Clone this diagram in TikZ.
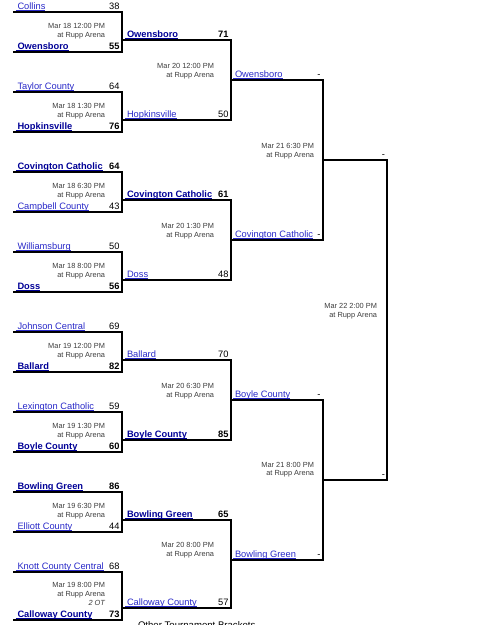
\documentclass[tikz,border=0pt]{standalone}
\usepackage{fontspec}
\setmainfont{Liberation Sans}
\definecolor{wincol}{RGB}{0,0,150}
\definecolor{losecol}{RGB}{40,40,200}
\definecolor{datecol}{RGB}{60,60,60}
\tikzset{
  bline/.style={draw=black, line width=1.3pt, line cap=rect, line join=miter},
  txt/.style={inner sep=0pt, outer sep=0pt},
  winner/.style={txt, font=\fontsize{9.3}{11}\selectfont\bfseries, text=wincol},
  loser/.style={txt, font=\fontsize{9.3}{11}\selectfont, text=losecol},
  winner ul/.style={draw=wincol, line width=1.2pt},
  loser ul/.style={draw=losecol, line width=0.8pt},
  wscore/.style={txt, font=\fontsize{9.3}{11}\selectfont\bfseries, text=black, anchor=base east},
  lscore/.style={txt, font=\fontsize{9.3}{11}\selectfont, text=black, anchor=base east},
  dateline/.style={txt, font=\fontsize{7.4}{9}\selectfont, text=datecol, anchor=base east},
  footer/.style={txt, font=\fontsize{9.6}{11}\selectfont, text=black, anchor=base west},
}
% bracket: id, x left, x right, y top, y bottom
\newcommand\bk[5]{%
  \coordinate (#1tl) at (#2,#4);
  \coordinate (#1tr) at (#3,#4);
  \coordinate (#1br) at (#3,#5);
  \coordinate (#1bl) at (#2,#5);
  \draw[bline] (#1tl) -- (#1tr) -- (#1br) -- (#1bl);
}
% team: id, x, baseline y, style, text
\newcommand\tm[5]{%
  \node[#4, anchor=base west] (#1) at (#2,#3) {#5};
  \draw[#4 ul] ([xshift=-2pt,yshift=-1.5pt]#1.base west) -- ([yshift=-1.5pt]#1.base east);
}
% score: id, x, baseline y, style, text
\newcommand\sco[5]{\node[#4] (#1) at (#2,#3) {#5};}
% date: id, right x, baseline y1, baseline y2, text
\newcommand\dt[5]{%
  \node[dateline] (#1a) at (#2,#3) {#5};
  \node[dateline] (#1b) at (#2,#4) {at Rupp Arena};
}
\begin{document}
\begin{tikzpicture}[x=1pt,y=-1pt]
\useasboundingbox (0,0) rectangle (479,625);
\clip (0,0) rectangle (479,625);
% ---------- round 1 ----------
\bk{a}{14}{122}{12}{52}
\tm{a1}{17.5}{9}{loser}{Collins}\sco{a1s}{119.5}{9}{lscore}{38}
\tm{a2}{17.5}{49}{winner}{Owensboro}\sco{a2s}{119.5}{49}{wscore}{55}
\dt{ad}{105}{28.7}{37.7}{Mar 18 12:00 PM}

\bk{b}{14}{122}{92}{132}
\tm{b1}{17.5}{89}{loser}{Taylor County}\sco{b1s}{119.5}{89}{lscore}{64}
\tm{b2}{17.5}{129}{winner}{Hopkinsville}\sco{b2s}{119.5}{129}{wscore}{76}
\dt{bd}{105}{108.7}{117.7}{Mar 18 1:30 PM}

\bk{c}{14}{122}{172}{212}
\tm{c1}{17.5}{169}{winner}{Covington Catholic}\sco{c1s}{119.5}{169}{wscore}{64}
\tm{c2}{17.5}{209}{loser}{Campbell County}\sco{c2s}{119.5}{209}{lscore}{43}
\dt{cd}{105}{188.7}{197.7}{Mar 18 6:30 PM}

\bk{d}{14}{122}{252}{292}
\tm{d1}{17.5}{249}{loser}{Williamsburg}\sco{d1s}{119.5}{249}{lscore}{50}
\tm{d2}{17.5}{289}{winner}{Doss}\sco{d2s}{119.5}{289}{wscore}{56}
\dt{dd}{105}{268.7}{277.7}{Mar 18 8:00 PM}

\bk{e}{14}{122}{332}{372}
\tm{e1}{17.5}{329}{loser}{Johnson Central}\sco{e1s}{119.5}{329}{lscore}{69}
\tm{e2}{17.5}{369}{winner}{Ballard}\sco{e2s}{119.5}{369}{wscore}{82}
\dt{ed}{105}{348.7}{357.7}{Mar 19 12:00 PM}

\bk{f}{14}{122}{412}{452}
\tm{f1}{17.5}{409}{loser}{Lexington Catholic}\sco{f1s}{119.5}{409}{lscore}{59}
\tm{f2}{17.5}{449}{winner}{Boyle County}\sco{f2s}{119.5}{449}{wscore}{60}
\dt{fd}{105}{428.7}{437.7}{Mar 19 1:30 PM}

\bk{g}{14}{122}{492}{532}
\tm{g1}{17.5}{489}{winner}{Bowling Green}\sco{g1s}{119.5}{489}{wscore}{86}
\tm{g2}{17.5}{529}{loser}{Elliott County}\sco{g2s}{119.5}{529}{lscore}{44}
\dt{gd}{105}{508.7}{517.7}{Mar 19 6:30 PM}

\bk{h}{14}{122}{572}{620}
\tm{h1}{17.5}{569}{loser}{Knott County Central}\sco{h1s}{119.5}{569}{lscore}{68}
\tm{h2}{17.5}{617}{winner}{Calloway County}\sco{h2s}{119.5}{617}{wscore}{73}
\dt{hd}{105}{587}{596.4}{Mar 19 8:00 PM}
\node[dateline, font=\fontsize{7.4}{9}\selectfont\itshape] (hot) at (105,605.4) {2 OT};

% ---------- round 2 ----------
\bk{p}{122}{231}{40}{120}
\tm{p1}{127}{37}{winner}{Owensboro}\sco{p1s}{228.5}{37}{wscore}{71}
\tm{p2}{127}{117}{loser}{Hopkinsville}\sco{p2s}{228.5}{117}{lscore}{50}
\dt{pd}{214}{68.7}{77.7}{Mar 20 12:00 PM}

\bk{q}{122}{231}{200}{280}
\tm{q1}{127}{197}{winner}{Covington Catholic}\sco{q1s}{228.5}{197}{wscore}{61}
\tm{q2}{127}{277}{loser}{Doss}\sco{q2s}{228.5}{277}{lscore}{48}
\dt{qd}{214}{228.7}{237.7}{Mar 20 1:30 PM}

\bk{r}{122}{231}{360}{440}
\tm{r1}{127}{357}{loser}{Ballard}\sco{r1s}{228.5}{357}{lscore}{70}
\tm{r2}{127}{437}{winner}{Boyle County}\sco{r2s}{228.5}{437}{wscore}{85}
\dt{rd}{214}{388.7}{397.7}{Mar 20 6:30 PM}

\bk{s}{122}{231}{520}{608}
\tm{s1}{127}{517}{winner}{Bowling Green}\sco{s1s}{228.5}{517}{wscore}{65}
\tm{s2}{127}{605}{loser}{Calloway County}\sco{s2s}{228.5}{605}{lscore}{57}
\dt{sd}{214}{547}{556}{Mar 20 8:00 PM}

% ---------- semifinals ----------
\bk{t}{231}{323}{80}{240}
\tm{t1}{235}{77}{loser}{Owensboro}\sco{t1s}{320.5}{77}{lscore}{-}
\tm{t2}{235}{237}{loser}{Covington Catholic}\sco{t2s}{320.5}{237}{lscore}{-}
\dt{td}{314}{148.7}{157.7}{Mar 21 6:30 PM}

\bk{u}{231}{323}{400}{560}
\tm{u1}{235}{397}{loser}{Boyle County}\sco{u1s}{320.5}{397}{lscore}{-}
\tm{u2}{235}{557}{loser}{Bowling Green}\sco{u2s}{320.5}{557}{lscore}{-}
\dt{ud}{314}{467}{475.7}{Mar 21 8:00 PM}

% ---------- final ----------
\bk{v}{323}{387}{160}{480}
\sco{v1s}{385}{157}{lscore}{-}
\sco{v2s}{385}{477}{lscore}{-}
\dt{vd}{377}{308.4}{317.4}{Mar 22 2:00 PM}

% ---------- footer (cut off) ----------
\node[footer] (foot) at (138,628.6) {Other Tournament Brackets};
\end{tikzpicture}
\end{document}
